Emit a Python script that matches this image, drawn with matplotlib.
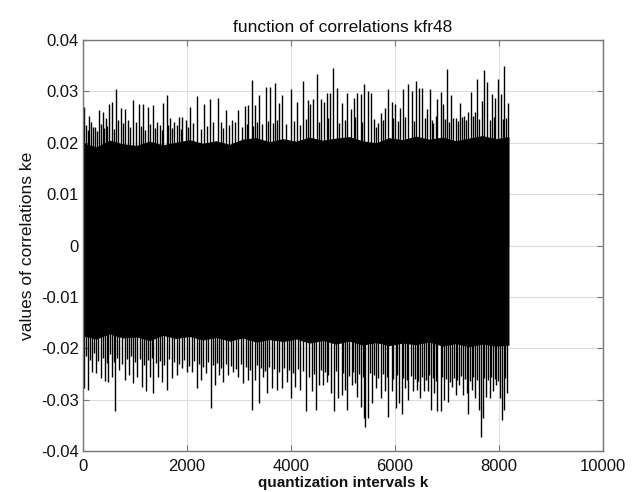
import matplotlib
matplotlib.use('Agg')
import matplotlib.pyplot as plt

plt.rcParams['font.family'] = ['Liberation Sans', 'DejaVu Sans']

# dense core of the correlation signal (envelope of the solid region)
band_k = [0, 256, 512, 768, 1024, 1280, 1536, 1792, 2048, 2304, 2560, 2816, 3072,
          3328, 3584, 3840, 4096, 4352, 4608, 4864, 5120, 5376, 5632, 5888, 6144,
          6400, 6656, 6912, 7168, 7424, 7680, 7936, 8192]
band_hi = [0.0200, 0.0192, 0.0205, 0.0198, 0.0195, 0.0203, 0.0196, 0.0201, 0.0206,
           0.0199, 0.0204, 0.0197, 0.0207, 0.0210, 0.0202, 0.0208, 0.0203, 0.0211,
           0.0205, 0.0209, 0.0212, 0.0204, 0.0200, 0.0210, 0.0206, 0.0213, 0.0207,
           0.0211, 0.0204, 0.0209, 0.0214, 0.0208, 0.0212]
band_lo = [-0.0176, -0.0182, -0.0172, -0.0180, -0.0178, -0.0185, -0.0175, -0.0181,
           -0.0177, -0.0184, -0.0179, -0.0186, -0.0180, -0.0188, -0.0183, -0.0187,
           -0.0182, -0.0190, -0.0185, -0.0192, -0.0186, -0.0194, -0.0189, -0.0195,
           -0.0190, -0.0193, -0.0188, -0.0196, -0.0191, -0.0197, -0.0192, -0.0196,
           -0.0194]

# positive peaks
hi_k = [19, 60, 122, 160, 231, 314, 378, 442, 500, 558, 628, 680, 724, 814, 860,
        955, 1010, 1083, 1147, 1244, 1340, 1420, 1481, 1545, 1609, 1673, 1750,
        1846, 1904, 1980, 2058, 2199, 2327, 2442, 2590, 2650, 2744, 2860, 2930,
        2987, 3115, 3179, 3244, 3308, 3384, 3513, 3596, 3692, 3776, 3833, 3994,
        4122, 4237, 4333, 4365, 4429, 4493, 4570, 4634, 4686, 4750, 4814, 4878,
        4974, 5083, 5147, 5211, 5275, 5340, 5404, 5474, 5538, 5634, 5731, 5807,
        5872, 5936, 6000, 6096, 6160, 6256, 6320, 6397, 6461, 6525, 6609, 6673,
        6737, 6814, 6878, 6929, 6993, 7070, 7166, 7250, 7333, 7410, 7461, 7538,
        7583, 7666, 7711, 7775, 7859, 7923, 7987, 8038, 8102, 8179]
hi_val = [0.0269, 0.0235, 0.0253, 0.0240, 0.0231, 0.0264, 0.0259, 0.0249, 0.0275,
          0.0279, 0.0304, 0.0245, 0.0268, 0.0266, 0.0245, 0.0283, 0.0240, 0.0275,
          0.0275, 0.0270, 0.0273, 0.0240, 0.0234, 0.0277, 0.0292, 0.0248, 0.0240,
          0.0251, 0.0251, 0.0245, 0.0269, 0.0291, 0.0275, 0.0286, 0.0288, 0.0240,
          0.0264, 0.0245, 0.0240, 0.0264, 0.0272, 0.0273, 0.0323, 0.0273, 0.0293,
          0.0308, 0.0308, 0.0316, 0.0277, 0.0293, 0.0304, 0.0280, 0.0321, 0.0283,
          0.0275, 0.0286, 0.0334, 0.0285, 0.0280, 0.0297, 0.0297, 0.0345, 0.0306,
          0.0278, 0.0296, 0.0265, 0.0288, 0.0297, 0.0295, 0.0314, 0.0301, 0.0297,
          0.0231, 0.0258, 0.0268, 0.0304, 0.0280, 0.0275, 0.0268, 0.0305, 0.0314,
          0.0301, 0.0321, 0.0307, 0.0307, 0.0266, 0.0305, 0.0239, 0.0286, 0.0299,
          0.0275, 0.0343, 0.0293, 0.0249, 0.0277, 0.0252, 0.0259, 0.0298, 0.0259,
          0.0324, 0.0282, 0.0342, 0.0318, 0.0294, 0.0288, 0.0325, 0.0294, 0.0349,
          0.0277]

# shorter positive lines filling the ragged upper edge
mid_hi_k = [90, 200, 270, 345, 410, 470, 600, 760, 910, 1115, 1200, 1290, 1380,
            1510, 1640, 1710, 1800, 1875, 2020, 2120, 2260, 2380, 2500, 2700, 2800,
            3050, 3150, 3270, 3345, 3450, 3550, 3650, 3730, 3900, 4050, 4180, 4280,
            4530, 4720, 4930, 5030, 5240, 5370, 5590, 5680, 5770, 5970, 6050, 6200,
            6360, 6570, 6710, 6780, 6960, 7030, 7120, 7210, 7290, 7370, 7500, 7620,
            7820, 7900, 8070, 8140]
mid_hi_val = [0.0225, 0.0230, 0.0222, 0.0236, 0.0228, 0.0233, 0.0226, 0.0238,
              0.0230, 0.0232, 0.0224, 0.0236, 0.0228, 0.0225, 0.0234, 0.0229,
              0.0235, 0.0227, 0.0231, 0.0238, 0.0226, 0.0233, 0.0240, 0.0228,
              0.0235, 0.0230, 0.0237, 0.0232, 0.0241, 0.0236, 0.0243, 0.0238,
              0.0245, 0.0237, 0.0242, 0.0235, 0.0246, 0.0240, 0.0248, 0.0239,
              0.0244, 0.0250, 0.0241, 0.0247, 0.0238, 0.0245, 0.0249, 0.0242,
              0.0251, 0.0243, 0.0248, 0.0244, 0.0252, 0.0246, 0.0241, 0.0249,
              0.0243, 0.0250, 0.0245, 0.0252, 0.0247, 0.0244, 0.0251, 0.0246,
              0.0249]

# negative peaks
lo_k = [19, 103, 167, 250, 340, 423, 487, 551, 622, 699, 808, 891, 968, 1045,
        1128, 1205, 1288, 1352, 1449, 1513, 1609, 1705, 1801, 1897, 1994, 2090,
        2186, 2269, 2365, 2455, 2538, 2622, 2699, 2795, 2891, 2987, 3083, 3167,
        3244, 3308, 3384, 3468, 3532, 3628, 3724, 3820, 3917, 4000, 4077, 4173,
        4288, 4352, 4397, 4481, 4538, 4609, 4686, 4763, 4827, 4910, 4974, 5038,
        5083, 5166, 5231, 5275, 5340, 5410, 5430, 5487, 5551, 5634, 5731, 5807,
        5872, 5936, 6013, 6077, 6128, 6192, 6256, 6340, 6416, 6481, 6557, 6628,
        6692, 6756, 6814, 6878, 6948, 7013, 7089, 7166, 7230, 7301, 7378, 7410,
        7474, 7538, 7615, 7653, 7686, 7756, 7820, 7884, 7949, 8013, 8060, 8090,
        8154]
lo_val = [-0.0278, -0.0281, -0.0246, -0.0249, -0.0258, -0.0264, -0.0265, -0.0255,
          -0.0323, -0.0242, -0.0262, -0.0252, -0.0268, -0.0255, -0.0275, -0.0284,
          -0.0255, -0.0288, -0.0255, -0.0265, -0.0281, -0.0258, -0.0252, -0.0239,
          -0.0246, -0.0246, -0.0278, -0.0262, -0.0249, -0.0317, -0.0271, -0.0252,
          -0.0265, -0.0252, -0.0246, -0.0255, -0.0268, -0.0262, -0.0320, -0.0262,
          -0.0307, -0.0255, -0.0288, -0.0278, -0.0281, -0.0278, -0.0265, -0.0297,
          -0.0275, -0.0281, -0.0323, -0.0255, -0.0284, -0.0320, -0.0271, -0.0271,
          -0.0265, -0.0288, -0.0323, -0.0297, -0.0291, -0.0281, -0.0320, -0.0271,
          -0.0268, -0.0294, -0.0314, -0.0336, -0.0353, -0.0336, -0.0307, -0.0278,
          -0.0297, -0.0284, -0.0333, -0.0284, -0.0317, -0.0307, -0.0327, -0.0278,
          -0.0301, -0.0284, -0.0281, -0.0297, -0.0284, -0.0284, -0.0320, -0.0288,
          -0.0323, -0.0323, -0.0301, -0.0304, -0.0275, -0.0291, -0.0271, -0.0291,
          -0.0288, -0.0327, -0.0281, -0.0297, -0.0320, -0.0372, -0.0336, -0.0294,
          -0.0297, -0.0284, -0.0271, -0.0297, -0.0340, -0.0320, -0.0288]

# shorter negative lines filling the ragged lower edge
mid_lo_k = [60, 135, 210, 295, 380, 455, 520, 590, 660, 750, 850, 930, 1005, 1090,
            1165, 1245, 1320, 1400, 1480, 1560, 1655, 1750, 1850, 1945, 2040, 2140,
            2230, 2315, 2410, 2495, 2580, 2660, 2750, 2840, 2940, 3035, 3125, 3205,
            3345, 3425, 3500, 3580, 3675, 3770, 3870, 3960, 4040, 4125, 4230, 4440,
            4570, 4650, 4720, 4870, 5000, 5125, 5200, 5305, 5380, 5520, 5595, 5680,
            5770, 5840, 5970, 6045, 6160, 6225, 6300, 6380, 6450, 6520, 6590, 6660,
            6725, 6785, 6910, 6980, 7050, 7130, 7200, 7265, 7340, 7440, 7505, 7580,
            7720, 7790, 7850, 7915, 7980, 8120]
mid_lo_val = [-0.0215, -0.0222, -0.0210, -0.0225, -0.0218, -0.0228, -0.0212,
              -0.0226, -0.0219, -0.0230, -0.0221, -0.0216, -0.0227, -0.0220,
              -0.0232, -0.0223, -0.0218, -0.0229, -0.0224, -0.0233, -0.0220,
              -0.0227, -0.0231, -0.0222, -0.0234, -0.0225, -0.0230, -0.0236,
              -0.0226, -0.0233, -0.0228, -0.0238, -0.0230, -0.0235, -0.0240,
              -0.0231, -0.0237, -0.0242, -0.0233, -0.0239, -0.0244, -0.0236,
              -0.0241, -0.0246, -0.0238, -0.0243, -0.0248, -0.0240, -0.0245,
              -0.0250, -0.0242, -0.0247, -0.0252, -0.0244, -0.0249, -0.0254,
              -0.0246, -0.0251, -0.0256, -0.0248, -0.0253, -0.0258, -0.0250,
              -0.0255, -0.0260, -0.0252, -0.0257, -0.0262, -0.0254, -0.0259,
              -0.0264, -0.0256, -0.0261, -0.0253, -0.0258, -0.0263, -0.0255,
              -0.0260, -0.0265, -0.0257, -0.0262, -0.0254, -0.0259, -0.0264,
              -0.0256, -0.0261, -0.0257, -0.0262, -0.0255, -0.0260, -0.0263,
              -0.0258]

x_ticks = [0, 2000, 4000, 6000, 8000, 10000]
x_labels = ['0', '2000', '4000', '6000', '8000', '10000']
y_ticks = [-0.04, -0.03, -0.02, -0.01, 0, 0.01, 0.02, 0.03, 0.04]
y_labels = ['-0.04', '-0.03', '-0.02', '-0.01', '0', '0.01', '0.02', '0.03', '0.04']

fig = plt.figure(figsize=(6.41, 4.92), dpi=100)
ax = fig.add_axes([0.1295, 0.0833, 0.8112, 0.8354])

ax.fill_between(band_k, band_lo, band_hi, color='black', lw=0)
ax.vlines(mid_hi_k, 0, mid_hi_val, color='black', lw=1.0)
ax.vlines(mid_lo_k, 0, mid_lo_val, color='black', lw=1.0)
ax.vlines(hi_k, 0, hi_val, color='black', lw=1.0)
ax.vlines(lo_k, 0, lo_val, color='black', lw=1.0)

ax.set_xlim(0, 10000)
ax.set_ylim(-0.04, 0.04)
ax.set_xticks(x_ticks, x_labels)
ax.set_yticks(y_ticks, y_labels)
ax.grid(True, color='#dcdcdc', lw=0.8)
ax.set_axisbelow(True)
ax.tick_params(direction='in', top=True, right=True, length=4, color='#777777',
               labelsize=12, labelcolor='#111111')
ax.tick_params(axis='x', pad=6)
ax.tick_params(axis='y', pad=3)
for s in ax.spines.values():
    s.set_color('#777777')
    s.set_linewidth(1.0)

ax.set_title('function of correlations kfr48', fontsize=12.5, pad=6, color='#111111')
ax.set_xlabel('quantization intervals k', fontsize=11, fontweight='bold', labelpad=1,
              color='#111111')
ax.set_ylabel('values of correlations ke', fontsize=12.5, labelpad=4, color='#111111')

fig.savefig('out.png', dpi=100)
